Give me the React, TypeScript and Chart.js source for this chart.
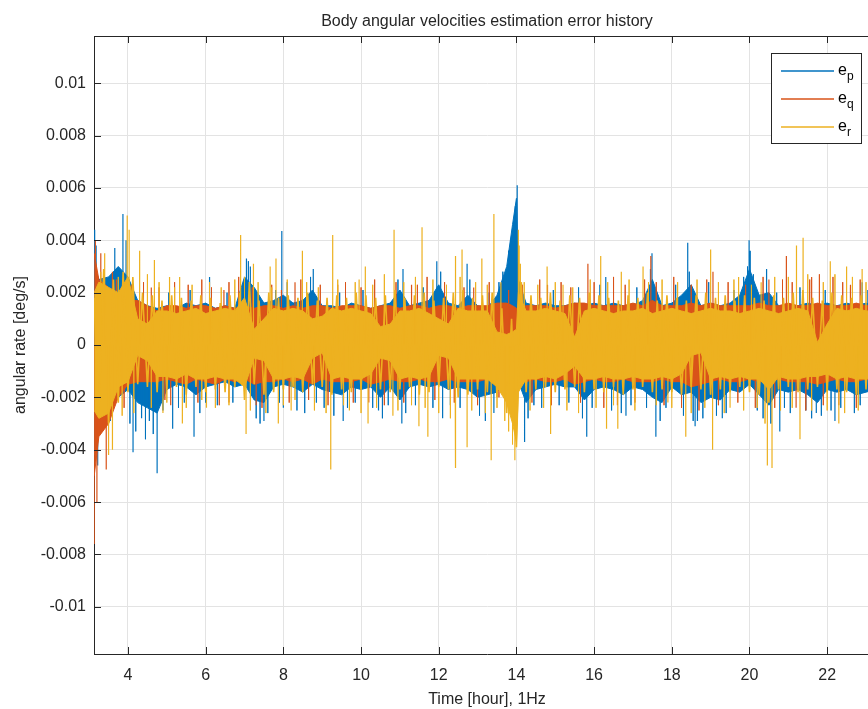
import { useEffect, useRef } from "react";
import { Chart, registerables } from "chart.js";

Chart.register(...registerables);

// ---------- data (angular-rate error, units of 0.001 deg/s) ----------
const titleText = "Body angular velocities estimation error history";
const xTitle = "Time [hour], 1Hz";
const yTitle = "angular rate [deg/s]";

const xTicks = [4, 6, 8, 10, 12, 14, 16, 18, 20, 22];
const yTicks = [-10, -8, -6, -4, -2, 0, 2, 4, 6, 8, 10];
const yTickLabels = ["-0.01", "-0.008", "-0.006", "-0.004", "-0.002", "0", "0.002", "0.004", "0.006", "0.008", "0.01"];
const xRange = [3.125, 23.36];
const yRange = [-11.8, 11.8];

const seriesBase = "e";
const seriesSubs = ["p", "q", "r"];
const seriesColors = ["#0072BD", "#D95319", "#EDB120"];

// envelope of the dense band (hours)
const bandT = [3.13, 3.25, 3.5, 3.75, 4, 4.25, 4.5, 4.75, 5, 5.25, 5.5, 5.75, 6, 6.25, 6.5, 6.75, 7, 7.25, 7.5, 7.75, 8, 8.25, 8.5, 8.75, 9, 9.25, 9.5, 9.75, 10, 10.25, 10.5, 10.75, 11, 11.25, 11.5, 11.75, 12, 12.25, 12.5, 12.75, 13, 13.25, 13.5, 13.75, 13.9, 14, 14.05, 14.25, 14.5, 14.75, 15, 15.25, 15.5, 15.75, 16, 16.25, 16.5, 16.75, 17, 17.25, 17.5, 17.75, 18, 18.25, 18.5, 18.75, 19, 19.25, 19.5, 19.75, 20, 20.25, 20.5, 20.75, 21, 21.25, 21.5, 21.75, 22, 22.25, 22.5, 22.75, 23, 23.25, 23.4];

const epHi = [3.0, 2.5, 2.6, 3.0, 2.6, 1.7, 1.5, 1.4, 1.5, 1.4, 1.6, 1.5, 1.6, 1.4, 1.5, 1.4, 2.6, 2.2, 1.6, 1.7, 1.9, 1.6, 1.7, 2.1, 1.5, 1.5, 1.4, 1.6, 1.5, 1.4, 1.5, 1.6, 2.1, 1.5, 1.6, 1.7, 2.3, 1.6, 1.5, 1.9, 1.5, 1.4, 1.9, 3.0, 4.6, 5.6, 2.5, 1.6, 1.5, 1.6, 1.5, 1.5, 1.6, 1.5, 1.6, 1.5, 1.6, 1.5, 1.5, 1.7, 2.5, 1.5, 1.6, 1.9, 2.3, 1.5, 1.6, 1.5, 1.6, 1.9, 2.9, 1.9, 2.0, 1.5, 1.5, 1.5, 1.6, 1.5, 1.6, 1.5, 1.6, 1.5, 1.6, 1.5, 1.5];
const epLo = [-3.0, -3.0, -2.4, -2.0, -1.7, -2.2, -2.4, -2.6, -1.7, -1.5, -1.6, -1.9, -1.6, -1.5, -1.4, -1.6, -1.5, -2.1, -2.2, -1.6, -1.5, -1.6, -1.8, -1.5, -1.7, -1.8, -1.9, -1.6, -1.7, -1.6, -2.0, -1.6, -2.1, -1.6, -1.5, -1.6, -1.5, -1.7, -1.6, -1.7, -2.0, -1.9, -1.8, -1.3, -1.2, -1.0, -1.4, -2.2, -1.7, -1.6, -1.5, -1.6, -1.6, -2.1, -1.7, -1.6, -1.7, -1.9, -1.6, -1.7, -2.0, -2.2, -1.6, -1.9, -1.8, -2.2, -2.0, -2.1, -1.7, -1.8, -1.5, -1.9, -2.3, -1.7, -1.8, -1.7, -1.9, -2.2, -1.7, -1.8, -1.7, -1.9, -1.8, -1.7, -1.7];

const eqHi = [3.5, 2.5, 2.2, 1.8, 1.7, 1.7, 1.5, 1.3, 1.5, 1.5, 1.4, 1.5, 1.5, 1.4, 1.5, 1.4, 1.5, 1.4, 1.5, 1.5, 1.4, 1.5, 1.4, 1.5, 1.5, 1.4, 1.5, 1.5, 1.5, 1.4, 1.5, 1.5, 1.4, 1.5, 1.5, 1.4, 1.5, 1.5, 1.4, 1.5, 1.5, 1.5, 1.6, 1.6, 1.5, 1.4, 1.4, 1.5, 1.5, 1.5, 1.4, 1.5, 1.6, 1.6, 1.5, 1.5, 1.5, 1.5, 1.6, 1.5, 1.7, 1.5, 1.5, 1.5, 1.6, 1.5, 1.6, 1.5, 1.5, 1.5, 1.5, 1.6, 1.5, 1.5, 1.6, 1.5, 1.5, 1.6, 1.5, 1.5, 1.5, 1.6, 1.5, 1.5, 1.5];
const eqLo = [-5.0, -3.5, -3.0, -2.0, -1.5, -1.4, -1.4, -1.4, -1.3, -1.4, -1.5, -1.3, -1.4, -1.5, -1.3, -1.4, -1.3, -1.5, -1.4, -1.4, -1.3, -1.4, -1.3, -1.5, -1.3, -1.4, -1.4, -1.4, -1.3, -1.5, -1.4, -1.3, -1.4, -1.4, -1.3, -1.4, -1.4, -1.3, -1.4, -1.4, -1.4, -1.3, -1.4, -1.3, -1.2, -1.1, -1.3, -1.4, -1.3, -1.4, -1.4, -1.3, -1.5, -1.4, -1.3, -1.4, -1.4, -1.3, -1.4, -1.4, -1.4, -1.3, -1.4, -1.4, -1.6, -1.5, -1.4, -1.3, -1.4, -1.4, -1.3, -1.4, -1.4, -1.3, -1.4, -1.4, -1.4, -1.5, -1.4, -1.3, -1.4, -1.4, -1.3, -1.4, -1.4];

const erHi = [2.0, 2.4, 2.2, 2.0, 2.6, 1.0, 0.8, 1.3, 1.3, 1.2, 1.3, 1.4, 1.2, 1.3, 1.4, 1.3, 1.8, 0.6, 1.0, 1.4, 1.3, 1.4, 1.3, 1.0, 1.1, 1.4, 1.3, 1.4, 1.3, 1.2, 0.7, 0.8, 1.3, 1.3, 1.4, 1.2, 1.0, 0.8, 1.4, 1.3, 1.3, 1.3, 0.5, 0.4, 0.5, 0.6, 2.0, 1.3, 1.3, 1.4, 1.3, 1.2, 0.3, 1.3, 1.4, 1.3, 1.2, 1.3, 1.3, 1.4, 1.2, 1.3, 1.4, 1.3, 1.2, 1.3, 1.4, 1.3, 1.3, 1.2, 1.3, 1.4, 1.3, 1.2, 1.3, 1.4, 1.3, 0.1, 0.8, 1.4, 1.3, 1.4, 1.3, 1.3, 1.3];
const erLo = [-2.5, -2.8, -2.6, -1.6, -1.4, -0.4, -0.6, -1.2, -1.2, -1.3, -1.1, -1.3, -1.3, -1.2, -1.3, -1.3, -1.6, -0.5, -0.6, -1.3, -1.3, -1.2, -1.3, -0.5, -0.3, -1.3, -1.2, -1.3, -1.3, -1.1, -0.5, -0.6, -1.3, -1.2, -1.3, -1.2, -0.4, -0.5, -1.3, -1.3, -1.3, -1.3, -1.6, -2.2, -3.0, -3.7, -1.8, -1.3, -1.3, -1.2, -1.3, -1.1, -0.8, -1.3, -1.3, -1.2, -1.3, -1.3, -1.2, -1.3, -1.3, -1.2, -1.3, -1.1, -0.4, -0.3, -1.3, -1.2, -1.3, -1.2, -1.3, -1.3, -1.7, -1.2, -1.3, -1.3, -1.2, -1.2, -1.1, -1.3, -1.2, -1.3, -1.3, -1.2, -1.3];

// e_r trace sampled every traceStep hours from traceStart (top layer, lets e_q show through)
const traceStart = 3.125;
const traceStep = 0.125;
const erTrace = [1.8, -2.6, 2.9, -3.0, 2.5, -2.2, 2.8, -1.8, 2.6, -1.5, 2.0, -1.6, 1.9, -1.8, 1.7, -1.7, 1.9, -1.6, 1.8, -1.9, 1.7, -1.6, 1.9, -1.8, 1.8, -1.7, 1.6, -1.8, 1.9, -1.6, 2.0, -2.1, 2.4, -1.5, 1.7, -1.9, 2.0, -1.8, 1.8, -1.7, 1.9, -1.6, 1.8, -1.8, 2.0, -1.5, 1.7, -1.6, 1.8, -1.9, 1.9, -1.7, 1.8, -1.8, 2.0, -1.7, 1.9, -1.6, 1.8, -1.7, 1.9, -1.8, 2.1, -1.7, 1.8, -1.6, 1.9, -1.9, 2.0, -1.8, 1.7, -1.6, 1.8, -1.7, 2.0, -2.0, 2.1, -1.9, 1.8, -1.7, 1.9, -1.8, 2.0, -2.0, 1.4, -2.6, 1.0, -3.9, 2.4, -1.8, 1.9, -1.7, 1.8, -1.6, 2.0, -1.8, 1.7, -1.7, 1.9, -1.6, 1.8, -1.8, 2.0, -1.7, 1.9, -1.8, 1.8, -1.6, 1.7, -1.9, 1.9, -1.7, 1.8, -1.6, 2.0, -1.8, 1.7, -1.7, 1.9, -1.8, 1.8, -1.9, 1.7, -1.6, 1.9, -1.7, 2.0, -1.9, 1.8, -1.7, 1.9, -1.8, 1.7, -1.6, 1.9, -1.8, 1.8, -1.9, 1.7, -2.2, 1.9, -1.7, 1.8, -1.6, 2.0, -1.8, 2.1, -1.7, 1.8, -1.6, 1.7, -1.8, 2.0, -1.7, 1.9, -1.8, 1.8, -1.9, 1.9, -1.7, 1.8, -1.8, 1.7];

// isolated large excursions [hour, value]
const epSpikes = [[3.13, 4.4], [3.15, -4.2], [3.18, 3.8], [3.22, -4.6], [3.66, 3.7], [3.87, 5.0], [3.95, 4.0], [4.13, -4.1], [4.35, -2.8], [4.75, -4.9], [5.15, -3.2], [5.7, -3.5], [6.1, 2.6], [7.05, 3.3], [7.15, 3.0], [7.5, -2.9], [7.96, 4.35], [8.0, -2.4], [8.77, 2.9], [9.54, -2.9], [10.45, -2.5], [11.05, -3.0], [11.08, 2.9], [11.95, 3.2], [12.1, -2.8], [12.73, 3.1], [13.42, -2.6], [13.97, 5.3], [14.02, 6.1], [14.21, -3.7], [15.81, -3.5], [16.3, 2.6], [16.82, -2.7], [17.49, 3.5], [17.59, -3.5], [18.41, 3.9], [18.6, -3.1], [18.66, -2.9], [19.3, -2.8], [19.99, 4.0], [20.02, 3.6], [20.44, 2.9], [20.78, -3.3], [21.72, -2.6], [22.2, -2.9], [22.9, 2.4]];
const eqSpikes = [[3.13, -7.6], [3.16, 4.0], [3.2, -6.0], [3.3, 3.5], [3.44, -4.75], [3.6, 2.8], [4.6, 2.2], [5.1, -2.3], [6.47, 2.1], [6.6, -2.2], [7.3, -2.3], [8.3, 2.4], [9.4, 2.3], [10.2, -2.2], [11.3, 2.3], [12.9, 2.2], [13.2, -2.0], [14.8, 2.3], [15.84, 3.1], [16.6, -2.3], [17.46, 3.4], [19.06, 2.8], [20.5, 2.5], [20.95, 3.4], [21.2, -2.4], [21.6, 2.6], [22.3, -2.3], [22.6, 2.3]];
const erSpikes = [[3.3, 2.8], [3.4, 3.5], [3.5, -4.2], [3.6, -4.0], [3.98, 4.95], [4.03, 4.4], [4.3, 3.6], [4.68, 3.25], [4.9, -2.6], [5.07, 2.6], [5.33, 2.6], [5.4, -3.0], [6.02, -2.4], [6.9, 4.2], [7.04, -3.4], [7.23, 3.1], [7.66, 3.0], [7.81, 3.3], [7.87, -3.0], [8.2, -2.5], [8.49, 3.6], [9.22, -4.75], [9.27, 4.2], [9.7, -2.5], [9.95, 2.5], [10.11, 3.0], [10.18, -3.0], [10.82, -2.7], [10.85, 4.4], [11.49, -3.1], [11.57, 4.5], [11.72, -3.5], [12.42, -4.7], [12.44, 3.4], [12.6, 3.65], [12.73, -3.9], [13.11, 3.3], [13.35, -4.4], [13.42, 5.0], [13.6, 2.4], [13.96, -4.4], [14.05, 4.4], [14.07, 3.8], [14.79, 3.0], [14.88, -3.4], [15.2, 2.3], [16.17, 3.4], [16.32, -3.2], [16.61, -3.2], [16.7, 2.8], [17.26, 3.0], [17.9, -2.2], [18.36, -3.5], [19.0, 3.65], [19.05, -4.0], [19.5, -2.4], [19.72, 2.6], [20.3, 2.4], [20.46, -4.6], [20.58, -4.7], [21.21, 3.8], [21.3, -3.6], [21.38, 4.1], [22.08, 3.2], [22.3, -3.0], [22.5, 3.0], [22.9, 2.9], [23.2, -2.6]];

// smaller excursions that make the ragged band edge [hour, value]
const epHairs = [[3.55, -2.9], [3.8, 2.8], [4.05, -3.0], [4.2, -3.3], [4.45, -3.6], [4.55, -2.9], [4.65, -3.4], [4.9, -2.5], [5.05, 2.0], [5.3, -2.4], [5.45, -2.2], [5.6, 2.1], [5.85, -2.6], [6.0, -2.2], [6.3, -2.3], [6.55, 2.0], [6.7, -2.2], [6.95, 2.3], [7.1, 3.2], [7.3, -2.8], [7.4, -3.0], [7.6, -2.6], [7.8, 2.1], [7.9, -2.2], [8.1, 2.4], [8.35, -2.5], [8.55, -2.6], [8.7, 2.6], [8.85, -2.2], [9.05, -2.4], [9.3, -2.7], [9.45, 2.0], [9.65, -2.4], [9.85, -2.2], [10.05, 2.1], [10.3, -2.4], [10.55, -2.8], [10.7, -2.3], [10.95, 2.5], [11.15, -2.6], [11.4, -2.3], [11.6, 2.2], [11.85, -2.4], [12.05, 2.8], [12.3, -2.3], [12.55, -2.4], [12.8, 2.5], [13.05, -2.7], [13.2, -2.9], [13.3, 2.0], [13.55, 2.4], [13.65, 2.8], [13.8, 3.6], [13.85, 4.0], [14.3, -2.8], [14.45, -2.3], [14.65, -2.4], [14.95, 2.1], [15.1, -2.3], [15.35, -2.2], [15.6, 2.2], [15.7, -2.8], [15.95, -2.4], [16.15, 2.3], [16.45, -2.5], [16.7, -2.6], [16.95, -2.3], [17.1, 2.2], [17.35, -2.4], [17.45, 2.9], [17.7, -2.9], [17.85, -2.4], [18.1, 2.3], [18.3, -2.7], [18.45, 2.8], [18.55, -2.9], [18.8, -2.8], [18.95, 2.4], [19.15, -2.7], [19.4, -2.6], [19.6, 2.1], [19.85, 2.6], [19.95, 3.0], [20.1, 2.7], [20.2, -2.5], [20.35, -2.8], [20.55, -3.0], [20.7, 2.0], [20.9, -2.4], [21.05, -2.6], [21.3, 2.2], [21.45, -2.5], [21.6, -2.8], [21.85, -2.7], [21.95, 2.1], [22.1, -2.5], [22.35, -2.4], [22.6, 2.2], [22.7, -2.6], [22.85, -2.3], [23.05, 2.1], [23.15, -2.5], [23.3, -2.2]];
const eqHairs = [[3.7, 2.5], [3.9, -2.4], [4.1, 2.3], [4.4, 2.4], [4.8, 2.2], [4.95, -2.1], [5.2, 2.4], [5.55, 2.3], [5.8, -2.2], [5.9, 2.5], [6.15, 2.2], [6.35, -2.3], [6.6, 2.4], [6.85, 2.6], [7.2, 2.2], [7.45, -2.4], [7.7, 2.3], [7.95, 2.1], [8.15, -2.2], [8.45, 2.5], [8.65, -2.1], [8.95, 2.3], [9.15, -2.3], [9.6, 2.4], [9.8, -2.2], [10.0, 2.2], [10.35, 2.5], [10.6, -2.3], [10.9, 2.4], [11.1, -2.2], [11.45, 2.3], [11.7, 2.6], [11.9, -2.1], [12.15, 2.4], [12.4, -2.2], [12.65, 2.2], [13.0, -2.3], [13.3, 2.4], [13.55, -2.0], [13.8, 2.1], [14.15, 2.3], [14.4, -2.2], [14.6, 2.5], [14.9, -2.3], [15.15, 2.4], [15.4, 2.2], [15.65, -2.2], [16.0, 2.4], [16.25, -2.4], [16.5, 2.6], [16.8, 2.3], [17.05, -2.2], [17.3, 2.5], [17.6, 2.4], [17.8, -2.3], [18.05, 2.6], [18.25, -2.4], [18.5, 2.3], [18.7, -2.5], [18.9, 2.5], [19.2, -2.3], [19.45, 2.4], [19.7, -2.2], [19.9, 2.3], [20.15, -2.4], [20.35, 2.6], [20.65, -2.4], [20.85, 2.5], [21.1, 2.4], [21.45, -2.5], [21.55, 2.5], [21.8, 2.7], [21.9, -2.3], [22.15, 2.6], [22.4, 2.4], [22.75, -2.4], [22.85, 2.5], [23.1, 2.3], [23.3, -2.2]];
const erHairs = [[3.75, 2.6], [3.85, -2.7], [4.15, -2.6], [4.5, 2.7], [4.6, -2.4], [4.8, 2.4], [5.0, -2.2], [5.2, 2.2], [5.5, -2.4], [5.65, 2.3], [5.9, -2.1], [6.1, 2.4], [6.25, -2.4], [6.4, 2.2], [6.6, -2.3], [6.75, 2.5], [7.0, 2.6], [7.15, -2.5], [7.35, 2.4], [7.55, -2.6], [7.7, 2.2], [8.0, -2.3], [8.1, 2.5], [8.3, -2.1], [8.6, 2.4], [8.8, -2.5], [8.9, 2.2], [9.1, -2.6], [9.4, 2.5], [9.55, -2.3], [9.85, 2.4], [10.0, -2.6], [10.3, 2.3], [10.4, -2.4], [10.6, 2.7], [10.95, -2.5], [11.1, 2.4], [11.3, -2.3], [11.4, 2.6], [11.65, -2.4], [11.85, 2.5], [12.0, -2.6], [12.2, 2.3], [12.3, -2.8], [12.55, 2.6], [12.85, -2.5], [12.95, 2.4], [13.2, -2.6], [13.25, 2.3], [13.5, -2.4], [13.7, -2.9], [13.8, -3.3], [13.9, -3.8], [14.1, 3.1], [14.2, 2.4], [14.35, -2.5], [14.55, 2.3], [14.7, -2.4], [15.0, 2.4], [15.3, -2.5], [15.45, 2.2], [15.6, -2.6], [15.9, 2.5], [16.05, -2.4], [16.35, 2.4], [16.5, -2.3], [16.9, 2.5], [17.05, -2.5], [17.4, 2.4], [17.6, -2.3], [17.75, 2.5], [18.0, -2.4], [18.15, 2.4], [18.5, -2.6], [18.65, 2.5], [18.85, -2.4], [19.2, 2.4], [19.35, -2.6], [19.6, 2.5], [19.85, -2.5], [20.05, 2.3], [20.2, -2.4], [20.4, -3.0], [20.65, 2.6], [20.8, -2.5], [21.0, 2.6], [21.1, -2.4], [21.5, 2.7], [21.6, -2.5], [21.9, 2.4], [22.0, -2.5], [22.2, 2.7], [22.45, -2.6], [22.65, 2.6], [22.8, -2.5], [23.0, 2.4], [23.1, -2.4], [23.3, 2.5]];

// ---------- helpers ----------
const FONT = '"Liberation Sans", Arial, Helvetica, sans-serif';
const TXT = "#262626";

function envelope(vals: number[]) {
  return bandT.map((t, i) => ({ x: t, y: vals[i] }));
}
function spikeLine(list: number[][]) {
  return list.flatMap(([t, v]) => [{ x: t, y: 0 }, { x: t, y: v }, { x: t, y: 0 }]);
}
function trace(vals: number[]) {
  return vals.map((v, i) => ({ x: traceStart + i * traceStep, y: v }));
}

const axesPlugin = {
  id: "matlabAxes",
  afterDraw(chart: any) {
    const { ctx, chartArea, scales } = chart;
    const { left, right, top, bottom } = chartArea;
    ctx.save();
    ctx.strokeStyle = TXT;
    ctx.lineWidth = 1;
    ctx.beginPath();
    ctx.moveTo(left, Math.round(top) + 0.5);
    ctx.lineTo(right, Math.round(top) + 0.5);
    ctx.moveTo(Math.round(right) - 0.5, top);
    ctx.lineTo(Math.round(right) - 0.5, bottom);
    scales.x.ticks.forEach((t: any) => {
      const px = Math.round(scales.x.getPixelForValue(t.value)) + 0.5;
      ctx.moveTo(px, bottom);
      ctx.lineTo(px, bottom - 7);
      ctx.moveTo(px, top);
      ctx.lineTo(px, top + 7);
    });
    scales.y.ticks.forEach((t: any) => {
      const py = Math.round(scales.y.getPixelForValue(t.value)) + 0.5;
      ctx.moveTo(left, py);
      ctx.lineTo(left + 7, py);
      ctx.moveTo(right, py);
      ctx.lineTo(right - 7, py);
    });
    ctx.stroke();
    ctx.restore();
  },
};

const legendPlugin = {
  id: "matlabLegend",
  afterDraw(chart: any) {
    const { ctx, chartArea } = chart;
    const left = Math.round(chartArea.right) - 109;
    const top = Math.round(chartArea.top) + 17;
    const w = 90;
    const h = 90;
    ctx.save();
    ctx.fillStyle = "#ffffff";
    ctx.fillRect(left, top, w, h);
    ctx.strokeStyle = TXT;
    ctx.lineWidth = 1;
    ctx.strokeRect(left + 0.5, top + 0.5, w, h);
    seriesSubs.forEach((sub, i) => {
      const y = top + 18 + i * 28;
      ctx.strokeStyle = seriesColors[i];
      ctx.lineWidth = 1.5;
      ctx.beginPath();
      ctx.moveTo(left + 10, y);
      ctx.lineTo(left + 63, y);
      ctx.stroke();
      ctx.fillStyle = "#000000";
      ctx.textBaseline = "alphabetic";
      ctx.textAlign = "left";
      ctx.font = `16px ${FONT}`;
      ctx.fillText(seriesBase, left + 67, y + 4);
      ctx.font = `12px ${FONT}`;
      ctx.fillText(sub, left + 76, y + 9);
    });
    ctx.restore();
  },
};

export default function App() {
  const ref = useRef<HTMLCanvasElement | null>(null);

  useEffect(() => {
    if (!ref.current) return;
    const series = [
      { hi: epHi, lo: epLo, sp: epSpikes, hr: epHairs, tr: null as number[] | null },
      { hi: eqHi, lo: eqLo, sp: eqSpikes, hr: eqHairs, tr: null as number[] | null },
      { hi: erHi, lo: erLo, sp: erSpikes, hr: erHairs, tr: erTrace },
    ];
    const datasets: any[] = [];
    series.forEach((s, i) => {
      const c = seriesColors[i];
      const base = (2 - i) * 5; // later series drawn on top
      const common = { borderColor: c, backgroundColor: c, pointRadius: 0, tension: 0, borderWidth: 1, borderJoinStyle: "bevel" };
      const name = seriesBase + seriesSubs[i];
      datasets.push({ ...common, label: name, data: envelope(s.hi), fill: "origin", order: base + 5 });
      datasets.push({ ...common, label: name + " lo", data: envelope(s.lo), fill: "origin", order: base + 4 });
      if (s.tr) datasets.push({ ...common, label: name + " trace", data: trace(s.tr), fill: false, borderWidth: 1.6, order: base + 3 });
      datasets.push({ ...common, label: name + " hairs", data: spikeLine(s.hr), fill: false, order: base + 2 });
      datasets.push({ ...common, label: name + " spikes", data: spikeLine(s.sp), fill: false, borderWidth: 1.2, order: base + 1 });
    });

    const tickFont = { family: FONT, size: 16 };
    const chart = new Chart(ref.current, {
      type: "line",
      data: { datasets },
      plugins: [axesPlugin, legendPlugin],
      options: {
        animation: false,
        responsive: false,
        devicePixelRatio: 1,
        events: [],
        layout: { padding: { left: 0, right: 20, top: 0, bottom: 0 } },
        plugins: {
          legend: { display: false },
          tooltip: { enabled: false },
          title: {
            display: true,
            text: titleText,
            fullSize: false,
            color: TXT,
            font: { family: FONT, size: 16, weight: "normal", lineHeight: 1.25 },
            padding: { top: 12, bottom: 4 },
          },
        },
        scales: {
          x: {
            type: "linear",
            min: xRange[0],
            max: xRange[1],
            afterBuildTicks: (s: any) => {
              s.ticks = xTicks.map((v) => ({ value: v }));
            },
            afterFit: (s: any) => {
              s.height = 55;
            },
            ticks: { color: TXT, font: tickFont, padding: 12, maxRotation: 0, autoSkip: false, callback: (v: any) => String(v) },
            grid: { color: "#e3e3e3", drawTicks: false, lineWidth: 1 },
            border: { color: TXT, width: 1 },
            title: { display: true, text: xTitle, color: TXT, font: tickFont, padding: { top: 0, bottom: 0 } },
          },
          y: {
            type: "linear",
            min: yRange[0],
            max: yRange[1],
            afterBuildTicks: (s: any) => {
              s.ticks = yTicks.map((v) => ({ value: v }));
            },
            afterFit: (s: any) => {
              s.width = 94;
            },
            ticks: { color: TXT, font: tickFont, padding: 8, autoSkip: false, callback: (_v: any, i: number) => yTickLabels[i] },
            grid: { color: "#e3e3e3", drawTicks: false, lineWidth: 1 },
            border: { color: TXT, width: 1 },
            title: { display: true, text: yTitle, color: TXT, font: tickFont, padding: { top: 11, bottom: 0 } },
          },
        },
      } as any,
    });
    return () => chart.destroy();
  }, []);

  return (
    <div style={{ position: "fixed", left: 0, top: 0, width: 868, height: 709, overflow: "hidden", background: "#ffffff" }}>
      <canvas ref={ref} width={900} height={709} style={{ display: "block" }} />
    </div>
  );
}
